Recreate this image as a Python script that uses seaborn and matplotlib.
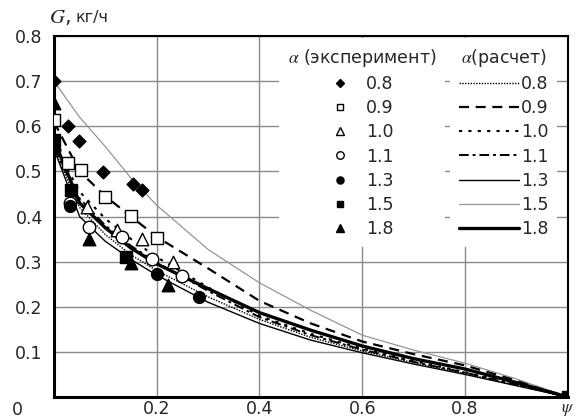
import pandas as pd
import matplotlib
matplotlib.use("Agg")
import matplotlib.pyplot as plt
import seaborn as sns
from matplotlib.lines import Line2D

# Данные: эксперимент (точки)
alphas = ["0.8", "0.9", "1.0", "1.1", "1.3", "1.5", "1.8"]

exp_x = {
    "0.8": [0.0, 0.027, 0.048, 0.096, 0.154, 0.172],
    "0.9": [0.0, 0.028, 0.053, 0.100, 0.149, 0.200],
    "1.0": [0.0, 0.064, 0.122, 0.172, 0.232],
    "1.1": [0.0, 0.032, 0.069, 0.132, 0.191, 0.250],
    "1.3": [0.0, 0.031, 0.200, 0.282],
    "1.5": [0.0, 0.033, 0.140, 1.0],
    "1.8": [0.0, 0.069, 0.149, 0.221],
}
exp_y = {
    "0.8": [0.70, 0.60, 0.567, 0.498, 0.472, 0.459],
    "0.9": [0.613, 0.518, 0.502, 0.443, 0.401, 0.353],
    "1.0": [0.562, 0.420, 0.370, 0.350, 0.299],
    "1.1": [0.548, 0.430, 0.376, 0.354, 0.305, 0.269],
    "1.3": [0.55, 0.424, 0.273, 0.222],
    "1.5": [0.570, 0.459, 0.311, 0.0],
    "1.8": [0.652, 0.350, 0.298, 0.248],
}

# Данные: расчет (линии)
psi = [0.0, 0.05, 0.1, 0.15, 0.2, 0.3, 0.4, 0.5, 0.6, 0.7, 0.8, 0.9, 1.0]
calc_y = {
    "0.8": [0.55, 0.42, 0.36, 0.315, 0.28, 0.222, 0.172, 0.132, 0.102, 0.076, 0.052, 0.026, 0.0],
    "0.9": [0.61, 0.50, 0.445, 0.40, 0.355, 0.285, 0.213, 0.163, 0.123, 0.095, 0.07, 0.037, 0.0],
    "1.0": [0.56, 0.455, 0.395, 0.35, 0.31, 0.243, 0.18, 0.14, 0.107, 0.08, 0.055, 0.028, 0.0],
    "1.1": [0.55, 0.44, 0.38, 0.335, 0.298, 0.235, 0.177, 0.137, 0.105, 0.078, 0.054, 0.027, 0.0],
    "1.3": [0.55, 0.40, 0.345, 0.305, 0.27, 0.21, 0.163, 0.126, 0.098, 0.073, 0.05, 0.025, 0.0],
    "1.5": [0.70, 0.62, 0.555, 0.485, 0.425, 0.327, 0.253, 0.192, 0.137, 0.104, 0.075, 0.04, 0.0],
    "1.8": [0.57, 0.43, 0.375, 0.33, 0.295, 0.24, 0.187, 0.148, 0.113, 0.085, 0.062, 0.032, 0.0],
}

# Стили
markers = {
    "0.8": ("D", "black", 6.5),
    "0.9": ("s", "white", 8),
    "1.0": ("^", "white", 9),
    "1.1": ("o", "white", 9),
    "1.3": ("o", "black", 8.5),
    "1.5": ("s", "black", 8),
    "1.8": ("^", "black", 9),
}
lines = {
    "0.8": ((0, (1, 1)), 1.0, "black"),
    "0.9": ((0, (4.5, 3)), 1.6, "black"),
    "1.0": ((0, (1.5, 3)), 1.5, "black"),
    "1.1": ((0, (5, 2, 1.5, 2)), 1.4, "black"),
    "1.3": ("-", 1.0, "black"),
    "1.5": ("-", 0.9, "#959595"),
    "1.8": ("-", 2.4, "black"),
}

sns.set_style("white")
plt.rcParams["font.family"] = ["DejaVu Sans"]
plt.rcParams["mathtext.fontset"] = "stix"
fs = 12.5

fig = plt.figure(figsize=(5.8, 4.19), dpi=100)
ax = fig.add_axes([0.093, 0.0525, 0.886, 0.8615])

# Расчетные линии
for a in alphas:
    ls, lw, c = lines[a]
    df = pd.DataFrame({"psi": psi, "G": calc_y[a]})
    sns.lineplot(data=df, x="psi", y="G", ax=ax, color=c, linewidth=lw,
                 linestyle=ls, sort=False, legend=False, zorder=3)

# Экспериментальные точки
for a in alphas:
    m, fc, s = markers[a]
    df = pd.DataFrame({"psi": exp_x[a], "G": exp_y[a]})
    sns.scatterplot(data=df, x="psi", y="G", ax=ax, marker=m, s=s ** 2,
                    facecolor=fc, edgecolor="black", linewidth=1.0,
                    legend=False, zorder=4)

ax.set_xlim(0, 1.0)
ax.set_ylim(0, 0.8)
ax.set_xticks([0.2, 0.4, 0.6, 0.8, 1.0])
ax.set_xticklabels(["0.2", "0.4", "0.6", "0.8", r"$\psi$"])
ax.set_yticks([0.1, 0.2, 0.3, 0.4, 0.5, 0.6, 0.7, 0.8])
ax.set_yticklabels(["0.1", "0.2", "0.3", "0.4", "0.5", "0.6", "0.7", "0.8"])
ax.tick_params(axis="x", length=0, labelsize=fs, pad=2)
ax.tick_params(axis="y", length=0, labelsize=fs, pad=8)
ax.set_xlabel("")
ax.set_ylabel("")
ax.grid(True, color="#8a8a8a", linewidth=1.0)
ax.set_axisbelow(True)
for sp in ax.spines.values():
    sp.set_color("black")
    sp.set_linewidth(1.5)
ax.spines["left"].set_linewidth(2.2)
ax.spines["bottom"].set_linewidth(2.2)

ax.text(-0.072, -0.036, "0", transform=ax.transAxes, fontsize=fs,
        ha="center", va="center")
ax.text(-0.01, 1.025, r"$G$,", transform=ax.transAxes, fontsize=15,
        ha="left", va="bottom")
ax.text(0.042, 1.03, "кг/ч", transform=ax.transAxes, fontsize=11.5,
        ha="left", va="bottom")

# Легенды
h1 = [Line2D([], [], linestyle="none", marker=markers[a][0],
             markerfacecolor=markers[a][1], markeredgecolor="black",
             markersize=markers[a][2] * 0.6) for a in alphas]
h2 = [Line2D([], [], linestyle=lines[a][0], linewidth=lines[a][1],
             color=lines[a][2]) for a in alphas]

common = dict(loc="upper center", fontsize=fs, title_fontsize=fs,
              labelspacing=0.36, frameon=True, framealpha=1, facecolor="white",
              edgecolor="none", borderpad=0.5, borderaxespad=0, fancybox=False)
leg1 = ax.legend(h1, alphas, title=r"$\alpha$ (эксперимент)",
                 bbox_to_anchor=(0.60, 0.995), handlelength=1.0,
                 handletextpad=1.0, **common)
ax.add_artist(leg1)
leg2 = ax.legend(h2, alphas, title=r"$\alpha$(расчет)",
                 bbox_to_anchor=(0.875, 0.995), handlelength=3.5,
                 handletextpad=0.1, **common)

fig.savefig("out.png", dpi=100)
